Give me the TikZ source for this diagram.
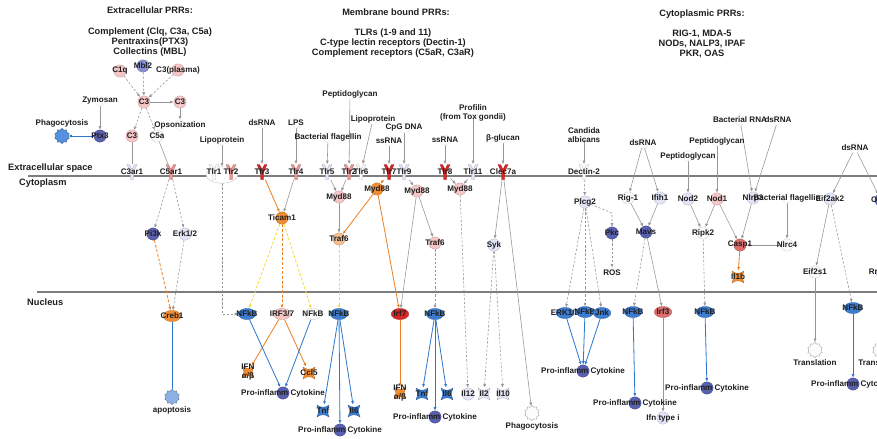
\documentclass[tikz,border=0pt]{standalone}
\usepackage{fontspec}
\setmainfont{Liberation Sans}
\usepackage{xcolor}
\usepackage{tikz}
\usetikzlibrary{arrows.meta}
\usetikzlibrary{shapes.geometric, backgrounds}

\definecolor{txt}{RGB}{30,30,30}
\definecolor{edg}{RGB}{150,150,150}
\definecolor{memb}{RGB}{125,125,125}
\definecolor{pk}{RGB}{246,198,198}
\definecolor{pkd}{RGB}{238,150,150}
\definecolor{rd}{RGB}{215,40,40}
\definecolor{rdl}{RGB}{222,110,110}
\definecolor{org}{RGB}{240,140,50}
\definecolor{orl}{RGB}{245,190,145}
\definecolor{pu}{RGB}{90,96,176}
\definecolor{pul}{RGB}{135,145,210}
\definecolor{lb}{RGB}{226,229,246}
\definecolor{wh}{RGB}{252,252,252}
\definecolor{nb}{RGB}{60,125,210}
\definecolor{blu}{RGB}{45,120,205}
\definecolor{ylw}{RGB}{240,220,60}
\definecolor{ore}{RGB}{236,128,36}
\definecolor{gbl}{RGB}{85,145,225}
\definecolor{gap}{RGB}{140,178,228}

\newcommand{\lblf}{\fontsize{6.9}{8}\selectfont\bfseries}
\newcommand{\hdrf}{\fontsize{7.9}{8.7}\selectfont\bfseries}

\tikzset{
  lbl/.style={font=\lblf, text=txt, align=center, inner sep=0.4pt},
  every label/.style={lbl},
  gene/.style 2 args={circle, minimum size=10.5pt, inner sep=0pt, fill=#1,
    draw=#1!80!black, line width=0.3pt, label=center:{#2}},
  tf/.style 2 args={ellipse, minimum width=15pt, minimum height=9.5pt, inner sep=0pt,
    fill=#1, draw=#1!80!black, line width=0.3pt, label=center:{#2}},
  recep/.style 2 args={rectangle, minimum width=9pt, minimum height=13pt, inner sep=0pt,
    label=center:{#2},
    path picture={\filldraw[fill=#1, draw=#1!75!black, line width=0.3pt]
      ([shift={(-5,-7.5)}]path picture bounding box.center) -- ++(2.5,0) -- ++(2.5,5)
      -- ++(2.5,-5) -- ++(2.5,0) -- ++(-3.5,8) -- ++(0,7) -- ++(-3,0) -- ++(0,-7) -- cycle;}},
  cyto/.style 2 args={rectangle, minimum size=10.5pt, inner sep=0pt, label=center:{#2},
    path picture={\filldraw[fill=#1, draw=#1!75!black, line width=0.3pt]
      ([shift={(-6,-6)}]path picture bounding box.center)
      .. controls +(3,3) and +(-3,3) .. ++(12,0) -- ++(-2,6) -- ++(2,6)
      .. controls +(-3,-3) and +(3,-3) .. ++(-12,0) -- ++(2,-6) -- cycle;}},
  gear/.style={star, star points=10, star point ratio=1.25, minimum size=13pt, inner sep=0pt,
    fill=#1, draw=#1!60!black, line width=0.3pt},
  stim/.style={circle, minimum size=9pt, inner sep=0pt, draw=black!10, line width=0.3pt,
    label=center:{#1}},
  hdr/.style={font=\hdrf, text=txt, align=center},
  area/.style={font=\hdrf, text=txt, anchor=west, inner sep=0pt},
  memline/.style={line width=2.4pt, draw=memb},
  ln/.style={draw=edg, line width=0.5pt},
  ar/.style={->, draw=edg, line width=0.5pt},
  ard/.style={ar, dash pattern=on 2pt off 1.5pt},
  aro/.style={->, draw=ore, line width=0.7pt},
  arod/.style={aro, dash pattern=on 2.5pt off 1.5pt},
  ary/.style={->, draw=ylw, line width=0.7pt, dash pattern=on 2.5pt off 1.5pt},
  arb/.style={->, draw=blu, line width=0.7pt},
}

\begin{document}
\begin{tikzpicture}[>={Latex[length=3pt, width=2.6pt]}, x=0.03cm, y=-0.03cm]
  \useasboundingbox (0,0) rectangle (877,438);

  % 1. Membrane (sfondo)
  \begin{scope}[on background layer]
    \draw[memline] (28,176) -- (877,176);
    \draw[memline] (37,292) -- (877,292);
  \end{scope}

  % 2. Titoli e compartimenti
  \node[hdr] (h1) at (150,10) {Extracellular PRRs:};
  \node[hdr] (h1b) at (150,42) {Complement (Clq, C3a, C5a)\\Pentraxins(PTX3)\\Collectins (MBL)};
  \node[hdr] (h2) at (396,12) {Membrane bound PRRs:};
  \node[hdr] (h2b) at (393,43) {TLRs (1-9 and 11)\\C-type lectin receptors (Dectin-1)\\Complement receptors (C5aR, C3aR)};
  \node[hdr] (h3) at (702,14) {Cytoplasmic PRRs:};
  \node[hdr] (h3b) at (702,44) {RIG-1, MDA-5\\NODs, NALP3, IPAF\\PKR, OAS};
  \node[area] (ext) at (8,168) {Extracellular space};
  \node[area] (cyt) at (19,183) {Cytoplasm};
  \node[area] (nuc) at (27,302) {Nucleus};

  % 3. Complemento (spazio extracellulare)
  \node[gene={pk}{C1q}] (c1q) at (120,71) {};
  \node[gene={pul}{Mbl2}] (mbl2) at (143,66) {};
  \node[gene={pk}{C3(plasma)}] (c3p) at (178,70) {};
  \node[gene={pk}{C3}] (c3) at (144,102) {};
  \node[gene={pk}{C3}] (c3r) at (180,102) {};
  \node[gene={pk}{C3}] (c3l) at (132,136) {};
  \node[gene={wh}{C5a}] (c5a) at (157,136) {};
  \node[gene={pu}{Ptx3}] (ptx3) at (100,136) {};
  \node[gear=gbl, label=above:Phagocytosis] (phago1) at (62,136) {};
  \node[stim=Zymosan] (zym) at (100,101) {};
  \node[stim=Opsonization] (opson) at (180,125) {};

  % 4. Ligandi
  \node[stim=Lipoprotein] (lipo1) at (222,140) {};
  \node[stim=dsRNA] (dsr1) at (262,123) {};
  \node[stim=LPS] (lps) at (296,123) {};
  \node[stim={Bacterial flagellin}] (flag1) at (328,137) {};
  \node[stim=Peptidoglycan] (pep1) at (350,94) {};
  \node[stim=Lipoprotein] (lipo2) at (373,119) {};
  \node[stim={CpG DNA}] (cpg) at (404,128) {};
  \node[stim=ssRNA] (ssr1) at (389,141) {};
  \node[stim=ssRNA] (ssr2) at (445,140) {};
  \node[stim={Profilin\\(from Tox gondii)}] (prof) at (473,113) {};
  \node[stim=β-glucan] (bglu) at (503,138) {};
  \node[stim={Candida\\albicans}] (cand) at (584,135) {};
  \node[stim=dsRNA] (dsr2) at (643,143) {};
  \node[stim=Peptidoglycan] (pep2) at (688,156) {};
  \node[stim=Peptidoglycan] (pep3) at (717,141) {};
  \node[stim={Bacterial RNA}] (brna) at (740,120) {};
  \node[stim=dsRNA] (dsr3) at (778,120) {};
  \node[stim=dsRNA] (dsr4) at (855,148) {};

  % 5. Recettori di membrana
  \node[ellipse, minimum width=27pt, minimum height=14pt, fill=white, draw=black!25,
    line width=0.3pt] (tlr12) at (222,175) {};
  \node[recep={lb}{C3ar1}] (c3ar1) at (132,172) {};
  \node[recep={pkd}{C5ar1}] (c5ar1) at (171,172) {};
  \node[recep={wh}{Tlr1}] (tlr1) at (214,172) {};
  \node[recep={pkd}{Tlr2}] (tlr2) at (231,172) {};
  \node[recep={rd}{Tlr3}] (tlr3) at (262,172) {};
  \node[recep={pkd}{Tlr4}] (tlr4) at (296,172) {};
  \node[recep={lb}{Tlr5}] (tlr5) at (327,172) {};
  \node[recep={pkd}{Tlr2}] (tlr2b) at (349,172) {};
  \node[recep={wh}{Tlr6}] (tlr6) at (361,172) {};
  \node[recep={rd}{Tlr7}] (tlr7) at (389,172) {};
  \node[recep={lb}{Tlr9}] (tlr9) at (404,172) {};
  \node[recep={rd}{Tlr8}] (tlr8) at (445,172) {};
  \node[recep={lb}{Tlr11}] (tlr11) at (473,172) {};
  \node[recep={rd}{Clec7a}] (clec7a) at (503,172) {};
  \node[recep={wh}{Dectin-2}] (dect2) at (584,172) {};

  % 6. Citoplasma
  \node[gene={pu}{Pi3k}] (pi3k) at (153,234) {};
  \node[gene={lb}{Erk1/2}] (erkc) at (185,234) {};
  \node[gene={org}{Ticam1}] (ticam1) at (282,218) {};
  \node[gene={pk}{Myd88}] (myd88a) at (339,197) {};
  \node[gene={org}{Myd88}] (myd88b) at (377,189) {};
  \node[gene={pk}{Myd88}] (myd88c) at (417,191) {};
  \node[gene={pk}{Myd88}] (myd88d) at (460,189) {};
  \node[gene={orl}{Traf6}] (traf6a) at (339,239) {};
  \node[gene={pk}{Traf6}] (traf6b) at (435,243) {};
  \node[gene={lb}{Syk}] (syk) at (494,245) {};
  \node[gene={lb}{Plcg2}] (plcg2) at (585,202) {};
  \node[gene={pu}{Pkc}] (pkc) at (612,233) {};
  \node[stim=ROS] (ros) at (612,273) {};
  \node[gene={wh}{Rig-1}] (rig1) at (628,198) {};
  \node[gene={lb}{Ifih1}] (ifih1) at (660,198) {};
  \node[gene={pu}{Mavs}] (mavs) at (646,232) {};
  \node[gene={lb}{Nod2}] (nod2) at (688,199) {};
  \node[gene={pk}{Nod1}] (nod1) at (717,199) {};
  \node[gene={wh}{Ripk2}] (ripk2) at (703,233) {};
  \node[gene={lb}{Nlrp3}] (nlrp3) at (753,198) {};
  \node[stim={Bacterial flagellin}] (flag2) at (787,198) {};
  \node[gene={rdl}{Casp1}] (casp1) at (740,245) {};
  \node[gene={wh}{Nlrc4}] (nlrc4) at (787,245) {};
  \node[cyto={org}{Il1b}] (il1b) at (738,277) {};
  \node[gene={lb}{Eif2ak2}] (eif2ak2) at (830,199) {};
  \node[gene={wh}{Eif2s1}] (eif2s1) at (815,272) {};
  \node[gene={pu}{Oas1}] (oas1) at (881,200) {};
  \node[gene={lb}{Rnasel}] (rnasel) at (882,272) {};

  % 7. Nucleo
  \node[tf={org}{Creb1}] (creb1) at (172,316) {};
  \node[gear=gap, label={[label distance=1pt]below:apoptosis}] (apopt) at (172,397) {};
  \node[tf={nb}{NFkB}] (nfkb1) at (247,314) {};
  \node[tf={pk}{IRF3/7}] (irf37) at (282,314) {};
  \node[tf={wh}{NFkB}] (nfkb2) at (313,314) {};
  \node[tf={nb}{NFkB}] (nfkb3) at (339,314) {};
  \node[tf={rd}{Irf7}] (irf7) at (400,314) {};
  \node[tf={nb}{NFkB}] (nfkb4) at (435,314) {};
  \node[cyto={org}{IFN\\α/β}] (ifn1) at (248,372) {};
  \node[cyto={org}{Ccl5}] (ccl5) at (309,373) {};
  \node[gene={pu}{Pro-inflamm Cytokine}] (pic1) at (283,393) {};
  \node[cyto={nb}{Tnf}] (tnf1) at (323,411) {};
  \node[cyto={nb}{Il6}] (il6a) at (354,411) {};
  \node[gene={pu}{Pro-inflamm Cytokine}] (pic2) at (340,430) {};
  \node[cyto={org}{IFN\\α/β}] (ifn2) at (400,393) {};
  \node[cyto={nb}{Tnf}] (tnf2) at (422,394) {};
  \node[cyto={nb}{Il6}] (il6b) at (447,394) {};
  \node[gene={pu}{Pro-inflamm Cytokine}] (pic3) at (435,417) {};
  \node[gene={lb}{Il12}] (il12) at (468,394) {};
  \node[cyto={lb}{Il2}] (il2) at (484,394) {};
  \node[cyto={lb}{Il10}] (il10) at (503,394) {};
  \node[gear=wh, label={[label distance=1pt]below:Phagocytosis}] (phago2) at (532,413) {};
  \node[tf={nb}{ERK1/2}] (erkn) at (565,313) {};
  \node[tf={nb}{NFkB}] (nfkb5) at (585,312) {};
  \node[tf={nb}{Jnk}] (jnk) at (602,313) {};
  \node[gene={pu}{Pro-inflamm Cytokine}] (pic4) at (583,371) {};
  \node[tf={nb}{NFkB}] (nfkb6) at (633,312) {};
  \node[tf={rdl}{Irf3}] (irf3) at (663,312) {};
  \node[gene={pu}{Pro-inflamm Cytokine}] (pic5) at (635,403) {};
  \node[gene={lb}{Ifn type i}] (ifnt) at (663,418) {};
  \node[tf={nb}{NFkB}] (nfkb7) at (705,312) {};
  \node[gene={pu}{Pro-inflamm Cytokine}] (pic6) at (707,388) {};
  \node[gear=wh, label={[label distance=1pt]below:Translation}] (transl1) at (815,350) {};
  \node[tf={nb}{NFkB}] (nfkb8) at (853,308) {};
  \node[gene={pu}{Pro-inflamm Cytokine}] (pic7) at (853,384) {};
  \node[gear=wh, label={[label distance=1pt]below:Translation}] (transl2) at (880,350) {};

  % 8. Connessioni (dietro ai nodi)
  \begin{scope}[on background layer]
    % complemento
    \foreach \a in {c1q, mbl2, c3p}
      \draw[ard] (\a) -- (c3);
    \draw[ar] (c3) -- (c3r);
    \draw[ar] (c3r) -- (opson);
    \draw[ard] (c3) -- (c3l);
    \draw[ard] (c3) -- (c5a);
    \draw[ar] (zym) -- (ptx3);
    \draw[arb] (ptx3) -- (phago1);
    \draw[ln] (c3l) -- (c3ar1);
    \draw[ln] (c5a) -- (c5ar1);

    % ligandi -> recettori e sensori
    \foreach \a/\b in {lipo1/tlr12, dsr1/tlr3, lps/tlr4, flag1/tlr5, pep1/tlr2b,
        lipo2/tlr6, ssr1/tlr7, cpg/tlr9, ssr2/tlr8, prof/tlr11, bglu/clec7a,
        cand/dect2, dsr2/rig1, dsr2/ifih1, pep2/nod2, pep3/nod1, brna/nlrp3,
        dsr3/nlrp3, dsr4/eif2ak2, dsr4/oas1}
      \draw[ar] (\a) -- (\b);

    % vie citoplasmatiche (grigie)
    \foreach \a/\b in {tlr4/ticam1, tlr5/myd88a, tlr2b/myd88a, myd88a/traf6a,
        tlr9/myd88c, myd88c/traf6b, myd88c/irf7, tlr8/myd88d, tlr11/myd88d,
        clec7a/syk, clec7a/phago2, rig1/mavs, ifih1/mavs, mavs/irf3, irf3/ifnt,
        nod2/ripk2, nod1/ripk2, nod1/casp1, nlrp3/casp1, flag2/nlrc4, nlrc4/casp1,
        eif2ak2/eif2s1, eif2s1/transl1, oas1/rnasel, rnasel/transl2}
      \draw[ar] (\a) -- (\b);
    \foreach \a/\b in {c5ar1/pi3k, c5ar1/erkc, erkc/creb1, traf6b/nfkb4,
        myd88d/il12, syk/il2, syk/il10, dect2/plcg2, pkc/ros, plcg2/erkn,
        plcg2/nfkb5, plcg2/jnk, mavs/nfkb6, ripk2/nfkb7, eif2ak2/nfkb8}
      \draw[ard] (\a) -- (\b);
    \draw[ard] (tlr12) |- (nfkb1);
    \draw[ard] (plcg2) -- (pkc.north |- 0,213) -- (pkc);

    % vie arancioni e gialle
    \draw[aro] (tlr3) -- (ticam1);
    \draw[aro] (tlr7) -- (myd88b);
    \draw[aro] (myd88b) -- (traf6a);
    \draw[aro] (myd88b) -- (irf7);
    \draw[aro] (casp1) -- (il1b);
    \draw[arod] (pi3k) -- (creb1);
    \draw[arod] (ticam1) -- (irf37);
    \draw[ary] (ticam1) -- (nfkb1);
    \draw[ary] (ticam1) -- (nfkb2);
    \draw[ary] (traf6a) -- (nfkb3);
    \draw[aro] (irf37) -- (ifn1);
    \draw[aro] (irf37) -- (ccl5);
    \draw[aro] (irf7) -- (ifn2);

    % nucleo: trascrizione (blu)
    \draw[draw=blu, line width=0.7pt] (creb1) -- (apopt);
    \foreach \a/\b in {nfkb1/pic1, nfkb2/pic1, nfkb3/tnf1, nfkb3/il6a, nfkb3/pic2,
        nfkb4/tnf2, nfkb4/il6b, nfkb4/pic3, erkn/pic4, nfkb5/pic4, jnk/pic4,
        nfkb6/pic5, nfkb7/pic6, nfkb8/pic7}
      \draw[arb] (\a) -- (\b);
  \end{scope}

\end{tikzpicture}
\end{document}
